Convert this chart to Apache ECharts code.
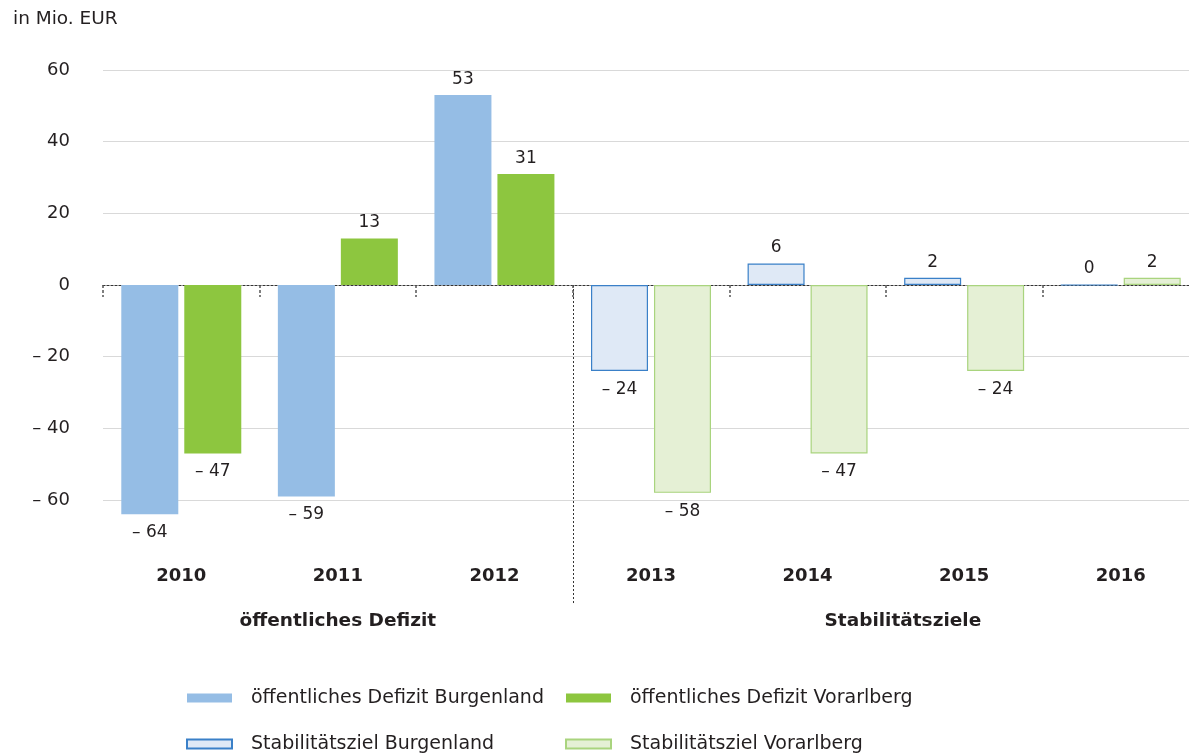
<!DOCTYPE html>
<html><head><meta charset="utf-8">
<script src="https://cdn.jsdelivr.net/npm/echarts@6/dist/echarts.min.js"></script>
<style>html,body{margin:0;padding:0;background:#fff;overflow:hidden}#c{width:1200px;height:753px}</style>
</head><body><div id="c"></div>
<script>
const years = ['2010','2011','2012','2013','2014','2015','2016'];
const defizitBurgenland = [-64, -59, 53, null, null, null, null];
const defizitVorarlberg = [-47, 13, 31, null, null, null, null];
const zielBurgenland = [null, null, null, -24, 6, 2, 0];
const zielVorarlberg = [null, null, null, -58, -47, -24, 2];
const seriesNames = ['öffentliches Defizit Burgenland','öffentliches Defizit Vorarlberg','Stabilitätsziel Burgenland','Stabilitätsziel Vorarlberg'];
const groupLabels = ['öffentliches Defizit','Stabilitätsziele'];
const yUnit = 'in Mio. EUR';

const FONT = 'DejaVu Sans';
const TXT = '#231f20';
const fmt = v => v < 0 ? '– ' + Math.abs(v) : String(v);

function mk(arr){
  return arr.map(v => v === null ? '-' : {value: v, label: v < 0 ? {position: 'bottom', distance: 10} : {position: 'top', distance: 7}});
}
function bar(name, arr, stack, color, border, bw){
  return {
    name, type: 'bar', stack, data: mk(arr), barWidth: 57, barGap: '10.5%',
    xAxisIndex: 0,
    itemStyle: {color, borderColor: border, borderWidth: bw},
    label: {show: true, formatter: p => fmt(p.value), fontFamily: FONT, fontSize: 17, color: TXT},
    emphasis: {disabled: true}
  };
}

const chart = echarts.init(document.getElementById('c'), null, {renderer: 'canvas'});
const legendText = {fontFamily: FONT, fontSize: 19, color: TXT, padding: [0,0,0,14], lineHeight: 20};
const option = {
  animation: false,
  grid: {left: 103, top: 70, width: 1096, height: 501.7},
  xAxis: [
    {type: 'category', data: years, axisLine: {show: true, onZero: true, lineStyle: {color: '#333', type: [2,2], width: 1}},
     axisTick: {show: true, length: 12, lineStyle: {color: '#555', type: [3,2], width: 1.5}}, axisLabel: {show: false}, splitLine: {show: false}},
    {type: 'category', data: years, position: 'bottom', axisLine: {show: false, onZero: false}, axisTick: {show: false},
     axisLabel: {show: true, margin: -4, fontFamily: FONT, fontWeight: 'bold', fontSize: 18, color: TXT}}
  ],
  yAxis: {type: 'value', min: -80, max: 60, interval: 20,
    axisLine: {show: false}, axisTick: {show: false},
    axisLabel: {margin: 33, fontFamily: FONT, fontSize: 18, color: TXT, formatter: v => v <= -80 ? '' : fmt(v)},
    splitLine: {show: true, showMinLine: false, lineStyle: {color: '#d9d9d9', width: 1}}
  },
  legend: [
    {orient: 'vertical', left: 186, top: 688, height: 150, padding: 0, itemGap: 26, itemWidth: 45, itemHeight: 9, icon: 'rect',
     data: [seriesNames[0], seriesNames[2]], selectedMode: false, textStyle: legendText},
    {orient: 'vertical', left: 565, top: 688, height: 150, padding: 0, itemGap: 26, itemWidth: 45, itemHeight: 9, icon: 'rect',
     data: [seriesNames[1], seriesNames[3]], selectedMode: false, textStyle: legendText}
  ],
  series: [
    bar(seriesNames[0], defizitBurgenland, 'b', '#95bde5', '#95bde5', 0),
    bar(seriesNames[1], defizitVorarlberg, 'v', '#8dc63f', '#8dc63f', 0),
    bar(seriesNames[2], zielBurgenland, 'b', '#dfe9f6', '#3a80c8', 1.2),
    bar(seriesNames[3], zielVorarlberg, 'v', '#e5f0d5', '#a9d47e', 1.2)
  ]
};
chart.setOption(option);

const px = c => chart.convertToPixel({xAxisIndex: 0}, c);
const y0 = chart.convertToPixel({yAxisIndex: 0}, 0);
const sepX = Math.round((px(years[2]) + px(years[3])) / 2) + 0.5;
const c1 = px(years[1]);
const c2 = (px(years[3]) + px(years[6])) / 2 + 17;
chart.setOption({
  graphic: [
    {type: 'text', left: 13, top: 10, style: {text: yUnit, font: '18.5px "DejaVu Sans"', fill: TXT}},
    {type: 'line', shape: {x1: sepX, y1: y0, x2: sepX, y2: 605}, style: {stroke: '#333', lineWidth: 1, lineDash: [2,2]}},
    {type: 'text', x: c1, y: 621, style: {text: groupLabels[0], font: 'bold 18.5px "DejaVu Sans"', fill: TXT, align: 'center', verticalAlign: 'middle'}},
    {type: 'text', x: c2, y: 621, style: {text: groupLabels[1], font: 'bold 18.5px "DejaVu Sans"', fill: TXT, align: 'center', verticalAlign: 'middle'}}
  ]
});
</script>
</body></html>
